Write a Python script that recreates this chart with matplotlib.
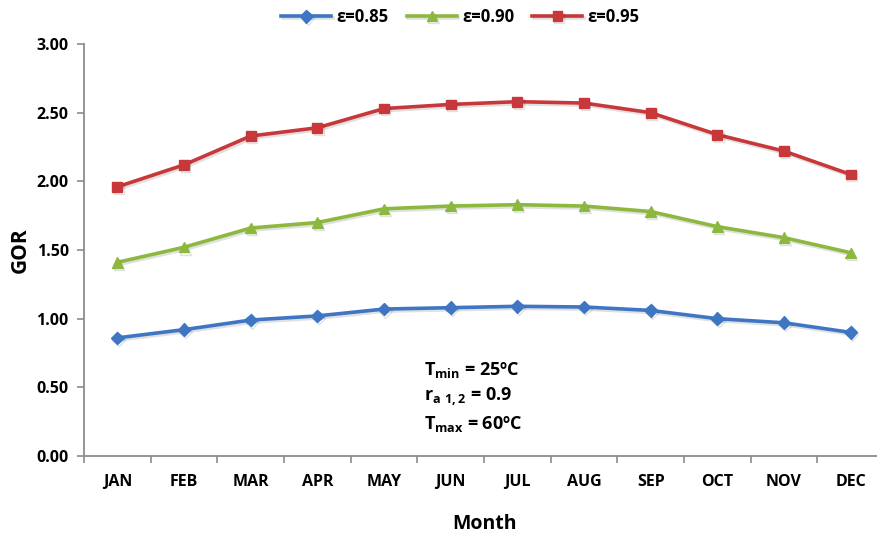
import matplotlib
matplotlib.use("Agg")
import matplotlib.pyplot as plt
import matplotlib.patheffects as pe
import numpy as np

months = ["JAN", "FEB", "MAR", "APR", "MAY", "JUN",
          "JUL", "AUG", "SEP", "OCT", "NOV", "DEC"]
gor_085 = [0.86, 0.92, 0.99, 1.02, 1.07, 1.08, 1.09, 1.085, 1.06, 1.00, 0.97, 0.90]
gor_090 = [1.41, 1.52, 1.66, 1.70, 1.80, 1.82, 1.83, 1.82, 1.78, 1.67, 1.59, 1.48]
gor_095 = [1.96, 2.12, 2.33, 2.39, 2.53, 2.56, 2.58, 2.57, 2.50, 2.34, 2.22, 2.05]
yticks = [0.0, 0.5, 1.0, 1.5, 2.0, 2.5, 3.0]

plt.rcParams["font.family"] = ["Open Sans", "DejaVu Sans"]
plt.rcParams["font.weight"] = "bold"

W, H = 877, 534
fig = plt.figure(figsize=(W / 100, H / 100), dpi=100)
left, right, bottom, top = 84, 884, 456, 44
ax = fig.add_axes([left / W, 1 - bottom / H, (right - left) / W, (bottom - top) / H])

x = np.arange(len(months))
shadow = [pe.SimpleLineShadow(offset=(1.0, -1.5), alpha=0.12, rho=0.6), pe.Normal()]
series = [
    (gor_085, "ε=0.85", "#3F76C4", "D", 6.5),
    (gor_090, "ε=0.90", "#8DB83F", "^", 7.5),
    (gor_095, "ε=0.95", "#C8383A", "s", 7),
]
for vals, lab, col, mk, ms in series:
    ax.plot(x, vals, color=col, lw=2.6, marker=mk, markersize=ms,
            markeredgecolor=col, label=lab, path_effects=shadow)

ax.set_xlim(-0.5, 11.5)
ax.set_ylim(0, 3)
ax.set_yticks(yticks)
ax.set_yticklabels([f"{v:.2f}" for v in yticks], fontsize=11.5, fontweight="bold")
ax.set_xticks(x)
ax.set_xticklabels(months, fontsize=11.5, fontweight="bold")
ax.set_xticks(np.arange(-0.5, 12, 1), minor=True)
ax.tick_params(axis="x", which="major", length=0, pad=13)
ax.tick_params(axis="x", which="minor", length=5, color="#8c8c8c", width=1.2)
ax.tick_params(axis="y", length=5, color="#8c8c8c", width=1.2, pad=6)

for s in ["top", "right"]:
    ax.spines[s].set_visible(False)
for s in ["left", "bottom"]:
    ax.spines[s].set_color("#8c8c8c")
    ax.spines[s].set_linewidth(1.3)

ax.set_xlabel("Month", fontsize=14, fontweight="bold", labelpad=17)
ax.set_ylabel("GOR", fontsize=15, fontweight="bold", labelpad=4)

ann_x = 0.425
ax.text(ann_x, 0.209, r"T$_{\mathregular{min}}$ = 25ºC", transform=ax.transAxes,
        fontsize=13, fontweight="bold", ha="left", va="center")
ax.text(ann_x, 0.143, r"r$_{\mathregular{a\ 1,2}}$ = 0.9", transform=ax.transAxes,
        fontsize=13, fontweight="bold", ha="left", va="center")
ax.text(ann_x, 0.077, r"T$_{\mathregular{max}}$ = 60ºC", transform=ax.transAxes,
        fontsize=13, fontweight="bold", ha="left", va="center")

leg = fig.legend(loc="center", bbox_to_anchor=(0.525, 1 - 17 / H), ncol=3,
                 frameon=False, handlelength=3.0, columnspacing=1.1,
                 handletextpad=0.3, prop={"weight": "bold", "size": 12})

fig.savefig("out.png", dpi=100)
